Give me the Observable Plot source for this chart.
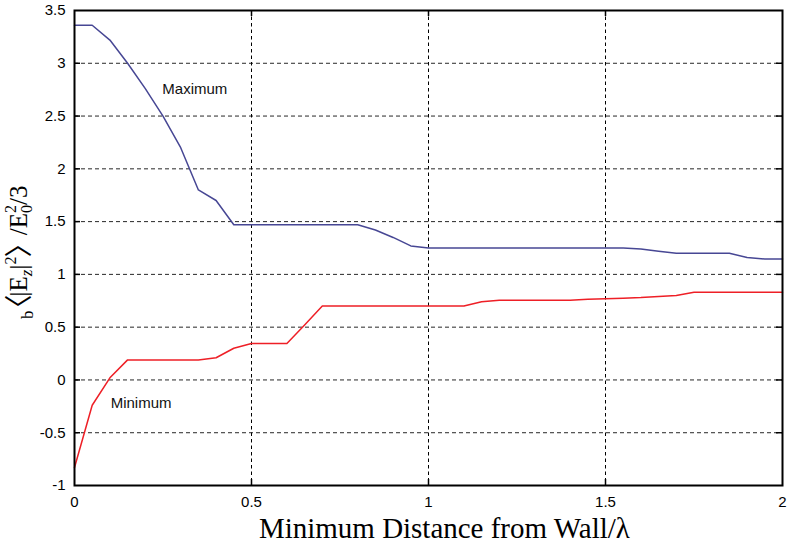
<!DOCTYPE html>
<html><head><meta charset="utf-8">
<script src="https://cdn.jsdelivr.net/npm/d3@7"></script>
<script src="https://cdn.jsdelivr.net/npm/@observablehq/plot@0.6"></script>
<style>html,body{margin:0;padding:0;background:#fff}</style>
</head><body><div id="chart"></div>
<script>
// ---- data ----
const distance = [0,0.05,0.1,0.15,0.2,0.25,0.3,0.35,0.4,0.45,
  0.5,0.55,0.6,0.65,0.7,0.75,0.8,0.85,0.9,0.95,
  1,1.05,1.1,1.15,1.2,1.25,1.3,1.35,1.4,1.45,
  1.5,1.55,1.6,1.65,1.7,1.75,1.8,1.85,1.9,1.95,2];
const maximum = [3.36,3.36,3.22,3.0,2.76,2.5,2.2,1.8,1.7,1.47,
  1.47,1.47,1.47,1.47,1.47,1.47,1.47,1.42,1.35,1.27,
  1.25,1.25,1.25,1.25,1.25,1.25,1.25,1.25,1.25,1.25,
  1.25,1.25,1.24,1.22,1.2,1.2,1.2,1.2,1.16,1.145,1.145];
const minimum = [-0.83,-0.24,0.02,0.19,0.19,0.19,0.19,0.19,0.21,0.3,
  0.345,0.345,0.345,0.52,0.7,0.7,0.7,0.7,0.7,0.7,
  0.7,0.7,0.7,0.74,0.755,0.755,0.755,0.755,0.755,0.765,
  0.77,0.775,0.78,0.79,0.8,0.83,0.83,0.83,0.83,0.83,0.83];
const seriesNames = ["Maximum","Minimum"];
const seriesColors = ["#474794","#ee1f26"];
const xTicks = [0,0.5,1,1.5,2];
const yTicks = [-1,-0.5,0,0.5,1,1.5,2,2.5,3,3.5];
const annotationText = ["Maximum","Minimum"];
const annotationX = [0.34,0.188];
const annotationY = [2.75,-0.224];
const xLabel = "Minimum Distance from Wall/λ";

// ---- build ----
const rows = distance.flatMap((d,i)=>[
  {x:d, y:maximum[i], s:seriesNames[0]},
  {x:d, y:minimum[i], s:seriesNames[1]}
]);
const fmt = d => String(d);
const W=790, H=544, mL=74, mR=8, mT=10, mB=59;
const pw = W-mL-mR, ph = H-mT-mB, tk = 6;
const inner = a => a.slice(1,-1);

const svg = Plot.plot({
  width: W, height: H,
  marginLeft: mL, marginRight: mR, marginTop: mT, marginBottom: mB,
  style: {fontFamily: "'Liberation Sans', Arial, sans-serif", fontSize: "15px", background: "#fff", color: "#000"},
  x: {domain: [0,2]},
  y: {domain: [-1,3.5]},
  color: {domain: seriesNames, range: seriesColors},
  marks: [
    Plot.ruleX(inner(xTicks), {stroke: "#000", strokeWidth: 1, strokeDasharray: "3.5,3"}),
    Plot.ruleY(inner(yTicks), {stroke: "#000", strokeWidth: 1, strokeDasharray: "4,3", strokeOpacity: 0.85}),
    Plot.line(rows, {x: "x", y: "y", z: "s", stroke: "s", strokeWidth: 1.5}),
    Plot.text(annotationText, {x: (d,i)=>annotationX[i], y: (d,i)=>annotationY[i], text: d=>d, fontSize: 15, fill: "#111"}),
    Plot.tickX(inner(xTicks), {stroke: "#000", strokeWidth: 1.5, insetTop: ph-tk}),
    Plot.tickX(inner(xTicks), {stroke: "#000", strokeWidth: 1.5, insetBottom: ph-tk}),
    Plot.tickY(inner(yTicks), {stroke: "#000", strokeWidth: 1.5, insetRight: pw-tk}),
    Plot.tickY(inner(yTicks), {stroke: "#000", strokeWidth: 1.5, insetLeft: pw-tk}),
    Plot.axisX({ticks: xTicks, tickSize: 0, tickPadding: 11, tickFormat: fmt, label: null}),
    Plot.axisY({ticks: yTicks, tickSize: 0, tickPadding: 9, tickFormat: fmt, label: null}),
    Plot.frame({stroke: "#000", strokeWidth: 2})
  ]
});
document.getElementById("chart").appendChild(svg);

const s = d3.select(svg);
const serif = "'Liberation Serif', 'DejaVu Serif', serif";
// x axis title
const xt = s.append("text").attr("x", 259).attr("y", 538).attr("text-anchor", "start")
  .attr("font-family", serif).attr("font-size", 26).attr("fill", "#000").text(xLabel);
const len = xt.node().getComputedTextLength();
if (len > 0) xt.attr("font-size", 26*371/len);

// y axis title: b<|E_z|^2> /E_0^2/3
const yl = s.append("text").attr("transform", "translate(27,254) rotate(-90)")
  .attr("text-anchor", "middle").attr("font-family", serif).attr("font-size", 25).attr("fill", "#000");
const bracket = "'Noto Sans CJK JP', 'Noto Sans CJK SC', sans-serif";
const parts = [
  {t:"b", fs:17, dy:6},
  {t:"〈", fs:28, dy:-4, dx:-12, ff:bracket},
  {t:"|E", fs:25, dy:-2, dx:-2},
  {t:"z", fs:17, dy:5, it:true},
  {t:"|", fs:25, dy:-5},
  {t:"2", fs:16, dy:-11},
  {t:"〉", fs:28, dy:13, dx:-1, ff:bracket},
  {t:" /E", fs:25, dy:-2, dx:-12},
  {t:"0", fs:16, dy:5},
  {t:"2", fs:16, dy:-16, dx:-8},
  {t:"/3", fs:25, dy:11}
];
for (const p of parts) {
  const ts = yl.append("tspan").attr("font-size", p.fs).attr("dy", p.dy).text(p.t);
  if (p.dx) ts.attr("dx", p.dx);
  if (p.ff) ts.attr("font-family", p.ff);
  if (p.it) ts.attr("font-style", "italic");
}
</script>
</body></html>
